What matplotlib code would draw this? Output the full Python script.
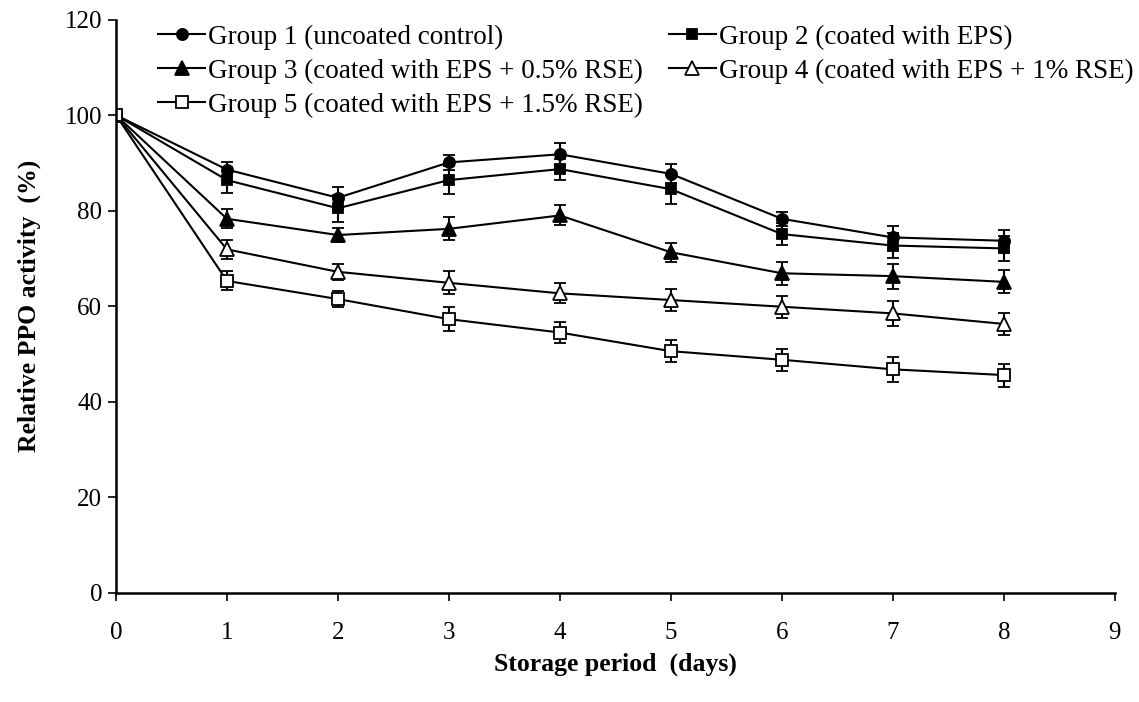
import matplotlib
matplotlib.use('Agg')
from matplotlib import pyplot as plt
from matplotlib.lines import Line2D

days = [0, 1, 2, 3, 4, 5, 6, 7, 8]

g1 = [100, 88.6, 82.7, 90.1, 91.8, 87.7, 78.3, 74.4, 73.7]
g2 = [100, 86.4, 80.5, 86.4, 88.7, 84.5, 75.1, 72.7, 72.1]
g3 = [100, 78.3, 74.9, 76.2, 79.0, 71.3, 66.9, 66.3, 65.1]
g4 = [100, 71.9, 67.2, 64.9, 62.7, 61.3, 59.9, 58.5, 56.3]
g5 = [100, 65.3, 61.5, 57.3, 54.5, 50.6, 48.8, 46.8, 45.6]

e1 = [0, 1.5, 2.3, 1.6, 2.3, 2.0, 1.5, 2.4, 2.3]
e2 = [0, 2.8, 2.8, 3.0, 2.2, 3.0, 2.3, 2.6, 2.6]
e3 = [0, 2.0, 1.5, 2.4, 2.1, 2.0, 2.4, 2.6, 2.4]
e4 = [0, 2.0, 1.7, 2.4, 2.1, 2.3, 2.3, 2.6, 2.3]
e5 = [0, 2.0, 1.7, 2.5, 2.1, 2.3, 2.3, 2.6, 2.4]

labels = ['Group 1 (uncoated control)',
          'Group 2 (coated with EPS)',
          'Group 3 (coated with EPS + 0.5% RSE)',
          'Group 4 (coated with EPS + 1% RSE)',
          'Group 5 (coated with EPS + 1.5% RSE)']

plt.rcParams['font.family'] = ['Liberation Serif', 'DejaVu Serif']

fig = plt.figure(figsize=(11.39, 7.02), dpi=100)
ax = fig.add_axes([0.1018, 0.1553, 0.877, 0.8169])

# marker, face colour, size
series = [(g1, e1, 'o', 'black', 8),
          (g2, e2, 's', 'black', 7.5),
          (g3, e3, '^', 'black', 9.5),
          (g4, e4, '^', 'white', 9.5),
          (g5, e5, 's', 'white', 8.5)]

handles = []
for vals, errs, mk, fc, ms in series:
    ax.errorbar(days, vals, yerr=errs, color='black', lw=1.5,
                marker=mk, markersize=ms,
                markerfacecolor=fc, markeredgecolor='black', markeredgewidth=1.3,
                capsize=4.5, capthick=1.5, elinewidth=1.5)
    handles.append(Line2D([], [], color='black', lw=1.5, marker=mk, markersize=ms,
                          markerfacecolor=fc, markeredgecolor='black',
                          markeredgewidth=1.3))

ax.set_xlim(0, 9)
ax.set_ylim(0, 120)
ax.set_xticks(range(0, 10))
ax.set_yticks(range(0, 121, 20))
ax.spines['top'].set_visible(False)
ax.spines['right'].set_visible(False)
ax.spines['left'].set_linewidth(1.8)
ax.spines['bottom'].set_linewidth(1.8)
ax.tick_params(direction='out', length=6, width=1.2, labelsize=18)
ax.tick_params(axis='x', pad=15)
ax.tick_params(axis='y', pad=4)

ax.set_xlabel('Storage period  (days)', fontsize=18.5, fontweight='bold', labelpad=6)
ax.set_ylabel('Relative PPO activity  (%)', fontsize=18.5, fontweight='bold', labelpad=17)

order = [0, 2, 4, 1, 3]
ax.legend([handles[i] for i in order], [labels[i] for i in order],
          ncol=2, loc='upper left', bbox_to_anchor=(0.042, 0.991),
          frameon=False, fontsize=19.5, handlelength=1.75, handletextpad=0.1,
          columnspacing=0.95, labelspacing=0.33, borderaxespad=0, borderpad=0)

fig.savefig('out.png', dpi=100)
